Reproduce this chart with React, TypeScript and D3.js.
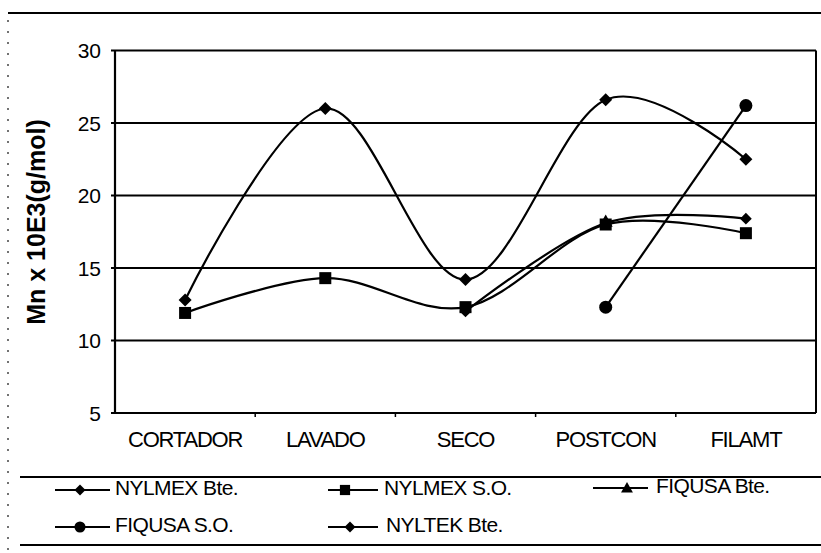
import React from "react";
import * as d3 from "d3";

const categories = ["CORTADOR", "LAVADO", "SECO", "POSTCON", "FILAMT"];
const yTicks = [5, 10, 15, 20, 25, 30];

const nylmexBte = [12.8, 26.0, 14.2, 26.6, 22.5];
const nylmexSO = [11.9, 14.3, 12.3, 18.0, 17.4];
const fiqusaBte: (number | null)[] = [null, null, null, 18.2, null];
const fiqusaSO: (number | null)[] = [null, null, null, 12.3, 26.2];
const nyltekBte: (number | null)[] = [null, null, 12.0, 18.1, 18.4];

const seriesNames = ["NYLMEX  Bte.", "NYLMEX S.O.", "FIQUSA Bte.", "FIQUSA S.O.", "NYLTEK Bte."];
const seriesMarkers = ["diamond", "square", "triangle", "circle", "diamond"];

const W = 821, H = 553;
const L = 115, R = 816, T = 50.5, B = 413;

const font = "'Liberation Sans', Arial, sans-serif";

function Marker({ type, x, y, s = 1 }: { type: string; x: number; y: number; s?: number }) {
  if (type === "diamond") {
    const r = 6.5 * s;
    return <path d={`M${x},${y - r}L${x + r},${y}L${x},${y + r}L${x - r},${y}Z`} fill="#000" />;
  }
  if (type === "square") {
    const r = 6 * s;
    return <rect x={x - r} y={y - r} width={2 * r} height={2 * r} fill="#000" />;
  }
  if (type === "triangle") {
    const r = 7 * s;
    return <path d={`M${x},${y - r}L${x + r},${y + r * 0.75}L${x - r},${y + r * 0.75}Z`} fill="#000" />;
  }
  return <circle cx={x} cy={y} r={6.5 * s} fill="#000" />;
}

export default function App() {
  const x = d3.scalePoint<string>().domain(categories).range([L, R]).padding(0.5);
  const y = d3.scaleLinear().domain([5, 30]).range([B, T]);
  const band = x.step();

  const allSeries = [nylmexBte, nylmexSO, fiqusaBte, fiqusaSO, nyltekBte];

  const line = d3
    .line<[number, number]>()
    .x((d) => d[0])
    .y((d) => d[1])
    .curve(d3.curveCardinal.tension(0));

  const legendPos = [
    { lx: 55, lw: 55, mx: 80, tx: 115, ty: 487 },
    { lx: 328, lw: 50, mx: 345, tx: 384, ty: 487 },
    { lx: 593, lw: 55, mx: 627, tx: 656, ty: 485 },
    { lx: 55, lw: 55, mx: 80, tx: 115, ty: 524 },
    { lx: 328, lw: 50, mx: 350, tx: 386, ty: 524 },
  ];

  return (
    <svg width={W} height={H} style={{ position: "absolute", left: 0, top: 0, background: "#fff" }}>
      <rect x={0} y={0} width={W} height={H} fill="#fff" />
      {/* outer frame fragments */}
      <line x1={8} x2={W} y1={13} y2={13} stroke="#000" strokeWidth={2} />
      <line x1={8} x2={8} y1={20} y2={553} stroke="#444" strokeWidth={1.5} strokeDasharray="2 9" />

      {/* gridlines */}
      {yTicks.map((t) => (
        <g key={t}>
          <line x1={L - 4} x2={R} y1={y(t)} y2={y(t)} stroke="#000" strokeWidth={2} />
          <text
            x={101}
            y={y(t) + 7.5}
            textAnchor="end"
            fontFamily={font}
            fontSize={21}
            fill="#000"
          >
            {t}
          </text>
        </g>
      ))}
      {/* plot borders */}
      <line x1={L} x2={L} y1={T} y2={B} stroke="#000" strokeWidth={2.2} />
      <line x1={R} x2={R} y1={T} y2={B} stroke="#000" strokeWidth={2} />
      {/* x ticks at category boundaries */}
      {categories.slice(1).map((c) => (
        <line key={c} x1={x(c)! - band / 2} x2={x(c)! - band / 2} y1={B} y2={B + 4} stroke="#000" strokeWidth={1.5} />
      ))}

      {/* category labels */}
      {categories.map((c) => (
        <text
          key={c}
          x={x(c)!}
          y={447}
          textAnchor="middle"
          fontFamily={font}
          fontSize={22}
          letterSpacing={-1.2}
          fill="#000"
        >
          {c}
        </text>
      ))}

      {/* y axis title */}
      <text
        transform={`translate(45,222) rotate(-90)`}
        textAnchor="middle"
        fontFamily={font}
        fontSize={25}
        fontWeight="bold"
        fill="#000"
      >
        Mn x 10E3(g/mol)
      </text>

      {/* series lines */}
      {allSeries.map((vals, i) => {
        const pts: [number, number][] = [];
        vals.forEach((v, j) => {
          if (v != null) pts.push([x(categories[j])!, y(v)]);
        });
        return (
          <g key={i}>
            {pts.length > 1 && (
              <path d={line(pts) || ""} fill="none" stroke="#000" strokeWidth={2.2} />
            )}
          </g>
        );
      })}
      {allSeries.map((vals, i) =>
        vals.map((v, j) =>
          v == null ? null : (
            <Marker
              key={`${i}-${j}`}
              type={seriesMarkers[i]}
              x={x(categories[j])!}
              y={y(v)}
              s={i === 4 ? 0.9 : 1}
            />
          )
        )
      )}

      {/* legend box */}
      <line x1={20} x2={W} y1={477} y2={477} stroke="#000" strokeWidth={2} />
      <line x1={20} x2={W} y1={545} y2={545} stroke="#000" strokeWidth={2} />
      {seriesNames.map((n, i) => {
        const p = legendPos[i];
        return (
          <g key={n}>
            <line x1={p.lx} x2={p.lx + p.lw} y1={p.ty + 3} y2={p.ty + 3} stroke="#000" strokeWidth={2.2} />
            <Marker type={seriesMarkers[i]} x={p.mx} y={p.ty + 3} s={0.85} />
            <text
              x={p.tx}
              y={p.ty + 7.5}
              fontFamily={font}
              fontSize={21}
              letterSpacing={-0.6}
              fill="#000"
            >
              {n}
            </text>
          </g>
        );
      })}
    </svg>
  );
}
